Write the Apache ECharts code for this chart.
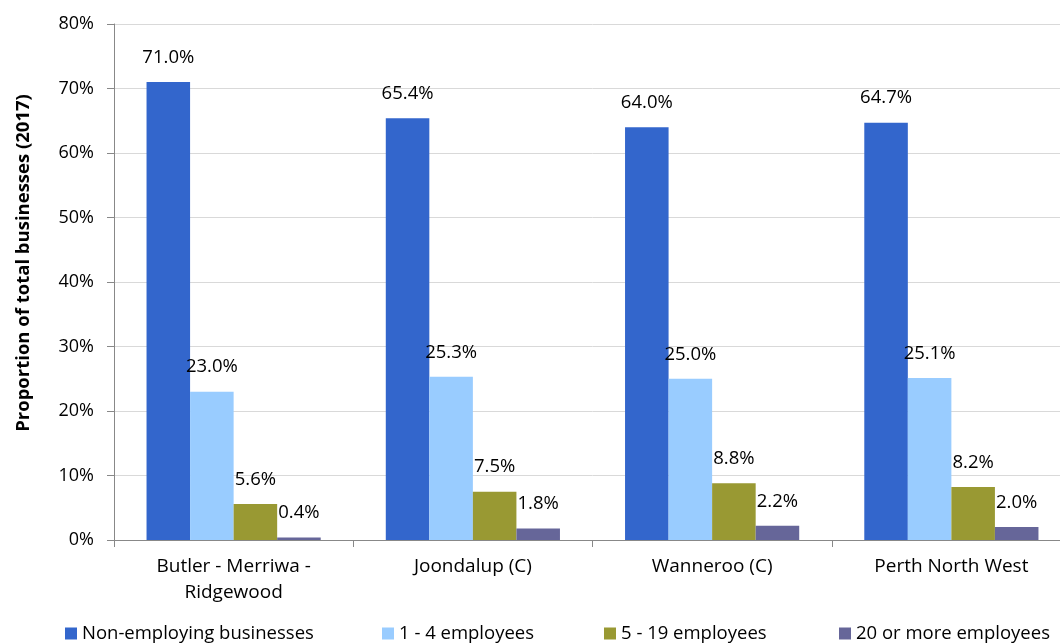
<!DOCTYPE html>
<html>
<head>
<meta charset="utf-8">
<script src="https://cdn.jsdelivr.net/npm/echarts@6/dist/echarts.min.js"></script>
<style>
  html, body { margin: 0; padding: 0; background: #fff; overflow: hidden; }
  /* the plot area runs a little past the right edge of the window */
  #chart { width: 1071px; height: 643px; }
</style>
</head>
<body>
<div id="chart"></div>
<script>
// Business size mix by area, share of total businesses (2017)
const categories = ['Butler - Merriwa -\nRidgewood', 'Joondalup (C)', 'Wanneroo (C)', 'Perth North West'];
const seriesNames = ['Non-employing businesses', '1 - 4 employees', '5 - 19 employees', '20 or more employees'];
const nonEmploying = [71.0, 65.4, 64.0, 64.7];
const emp1to4 = [23.0, 25.3, 25.0, 25.1];
const emp5to19 = [5.6, 7.5, 8.8, 8.2];
const emp20plus = [0.4, 1.8, 2.2, 2.0];
const yTicks = { min: 0, max: 80, interval: 10 };
const yTitle = 'Proportion of total businesses (2017)';

const colors = ['#3366CC', '#99CCFF', '#999933', '#666699'];
const FONT = 'Open Sans';
const seriesData = [nonEmploying, emp1to4, emp5to19, emp20plus];
const legendLefts = [60, 377, 599, 834];

const chart = echarts.init(document.getElementById('chart'));
chart.setOption({
  animation: false,
  textStyle: { fontFamily: FONT, color: '#000' },
  grid: { left: 114, right: 0, top: 24, bottom: 103 },
  // one legend block per series so each entry sits at its own column
  legend: seriesNames.map((name, i) => ({
    left: legendLefts[i], top: 619,
    icon: 'rect', itemWidth: 12, itemHeight: 12, itemGap: 6,
    textStyle: { fontFamily: FONT, fontSize: 18.5, color: '#000' },
    data: [name]
  })),
  graphic: [{
    type: 'text',
    x: 24, y: 263,
    rotation: Math.PI / 2,
    style: {
      text: yTitle,
      fontFamily: FONT, fontWeight: 'bold', fontSize: 18.5, fill: '#000',
      align: 'center', verticalAlign: 'middle'
    }
  }],
  xAxis: {
    type: 'category',
    data: categories,
    axisLine: { lineStyle: { color: '#888', width: 1 } },
    axisTick: { show: true, length: 7, lineStyle: { color: '#888' } },
    axisLabel: { interval: 0, margin: 14, fontSize: 19, lineHeight: 26, color: '#000', fontFamily: FONT }
  },
  yAxis: {
    type: 'value',
    min: yTicks.min, max: yTicks.max, interval: yTicks.interval,
    axisLine: { show: true, lineStyle: { color: '#888', width: 1 } },
    axisTick: { show: true, length: 7, lineStyle: { color: '#888' } },
    axisLabel: { formatter: '{value}%', margin: 20, fontSize: 18, color: '#000', fontFamily: FONT },
    splitLine: { lineStyle: { color: '#d9d9d9', width: 1 } }
  },
  series: seriesNames.map((name, i) => ({
    name,
    type: 'bar',
    data: seriesData[i],
    barGap: '0%',
    barCategoryGap: '27.2%',
    itemStyle: { color: colors[i] },
    label: {
      show: true, position: 'top', distance: 15,
      fontFamily: FONT, fontSize: 18.5, color: '#000',
      formatter: p => p.value.toFixed(1) + '%'
    }
  }))
});
</script>
</body>
</html>
